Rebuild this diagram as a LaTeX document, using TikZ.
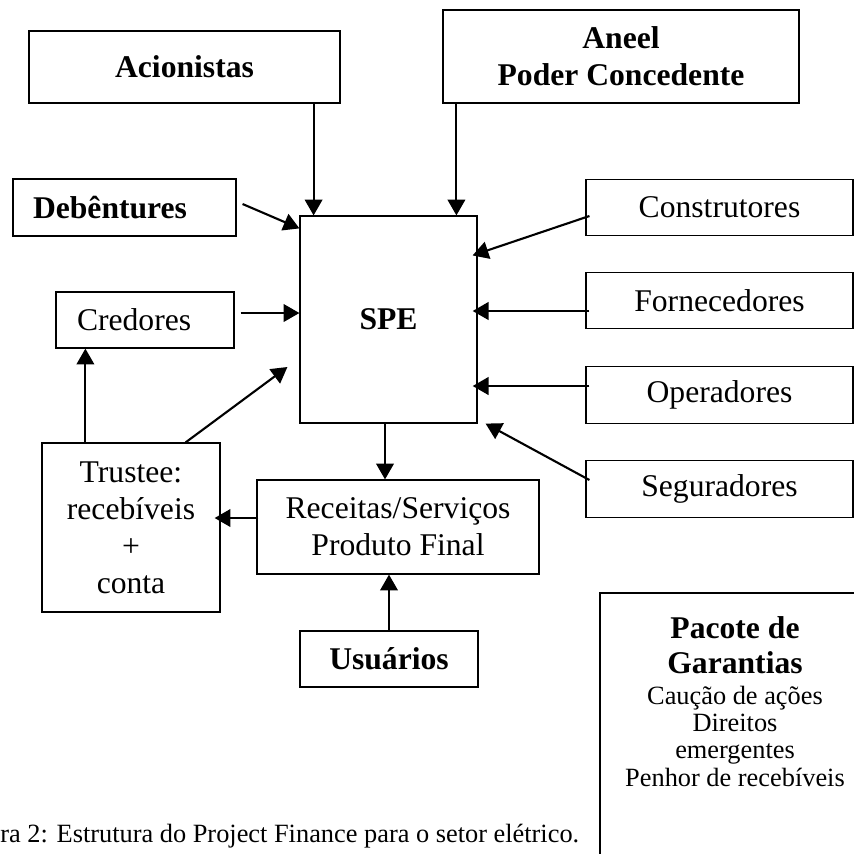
\documentclass[tikz,border=0pt]{standalone}
\usepackage{fontspec}
\setmainfont{Liberation Serif}
\usetikzlibrary{arrows.meta, positioning}

\tikzset{
	box/.style = {draw, line width=0.7pt, inner sep=0pt, align=center,
		font=\fontsize{18}{21}\selectfont},
	boxbf/.style = {box, font=\fontsize{18}{21}\selectfont\bfseries},
	side/.style = {box, minimum width=5.34cm, minimum height=1.13cm},
	flow/.style = {-{Triangle[length=9pt, width=10pt]}, line width=1.2pt},
}

\begin{document}
\begin{tikzpicture}[x=0.02cm, y=-0.02cm]
\useasboundingbox (0,0) rectangle (854,853);
\clip (0,0) rectangle (854,853);

% boxes
\node[boxbf, minimum width=6.22cm, minimum height=1.44cm] (acionistas) at (184.5,67) {Acionistas};
\node[boxbf, minimum width=7.12cm, minimum height=1.86cm] (aneel) at (621,56.5) {Aneel\\Poder Concedente};
\node[boxbf, align=left, text width=3.66cm, inner xsep=0.4cm, minimum height=1.14cm] (debentures) at (124.5,207.5) {Deb\^entures};
\node[boxbf, minimum width=3.54cm, minimum height=4.14cm] (spe) at (388.5,319.5) {SPE};
\node[box, align=left, text width=2.72cm, inner xsep=0.42cm, minimum height=1.12cm] (credores) at (145,320) {Credores};

\node[side] (construtores) at (719.5,207.5) {Construtores};
\node[side] (fornecedores) at (719.5,300.5) {Fornecedores};
\node[side] (operadores) at (719.5,395) {Operadores};
\node[side] (seguradores) at (719.5,489) {Seguradores};

\node[box, minimum width=3.56cm, minimum height=3.38cm] (trustee) at (131,527.5) {Trustee:\\receb\'iveis\\+\\conta};
\node[box, minimum width=5.64cm, minimum height=1.88cm] (receitas) at (398,527) {Receitas/Servi\c{c}os\\Produto Final};
\node[boxbf, minimum width=3.56cm, minimum height=1.12cm] (usuarios) at (389,659) {Usu\'arios};

% guarantees, open to the page edges
\draw[line width=0.7pt] (870,593) -| (600,870);
\node[inner sep=0pt, align=center, font=\fontsize{18}{20}\selectfont\bfseries] (pacote) at (735,645) {Pacote de\\Garantias};
\node[below=6.5pt of pacote, inner sep=0pt, align=center, font=\fontsize{15}{15.6}\selectfont] (garantias)
	{Cau\c{c}\~ao de a\c{c}\~oes\\Direitos\\emergentes\\Penhor de receb\'iveis};

\node[anchor=base west, inner sep=0pt, font=\fontsize{15}{18}\selectfont] (legenda) at (0,842)
	{ra 2: Estrutura do Project Finance para o setor el\'etrico.};

% arrows into the SPE
\draw[flow] ([xshift=-0.54cm]acionistas.south east) coordinate (a1) -- (a1 |- spe.north);
\draw[flow] ([xshift=0.28cm]aneel.south west) coordinate (a2) -- (a2 |- spe.north);
\draw[flow] ([xshift=0.12cm, yshift=0.07cm]debentures.east) -- ([yshift=-0.26cm]spe.north west);
\draw[flow] ([xshift=0.12cm, yshift=0.14cm]credores.east) coordinate (c1) -- (c1 -| spe.west);
\draw[flow] ([xshift=-0.7cm]trustee.north east) -- ([xshift=-0.24cm, yshift=-0.95cm]spe.west);

\draw[flow] ([xshift=0.08cm, yshift=-0.17cm]construtores.west) -- ([xshift=-0.1cm, yshift=-0.8cm]spe.north east);
\draw[flow, shorten >=-2.8pt] ([xshift=0.08cm, yshift=-0.21cm]fornecedores.west) coordinate (f1) -- (f1 -| spe.east);
\draw[flow, shorten >=-2.8pt] ([xshift=0.08cm, yshift=0.18cm]operadores.west) coordinate (o1) -- (o1 -| spe.east);
\draw[flow] ([xshift=0.08cm, yshift=0.18cm]seguradores.west) -- ([xshift=0.16cm]spe.south east);

% cash flow below
\draw[flow] ([xshift=-0.07cm]spe.south) coordinate (s1) -- (s1 |- receitas.north);
\draw[flow] (usuarios.north) -- (usuarios.north |- receitas.south);
\draw[flow, shorten >=-3.4pt] ([xshift=0.04cm, yshift=0.18cm]receitas.west) coordinate (r1) -- (r1 -| trustee.east);
\draw[flow] ([xshift=0.88cm]trustee.north west) coordinate (t1) -- (t1 |- credores.south);
\end{tikzpicture}
\end{document}
